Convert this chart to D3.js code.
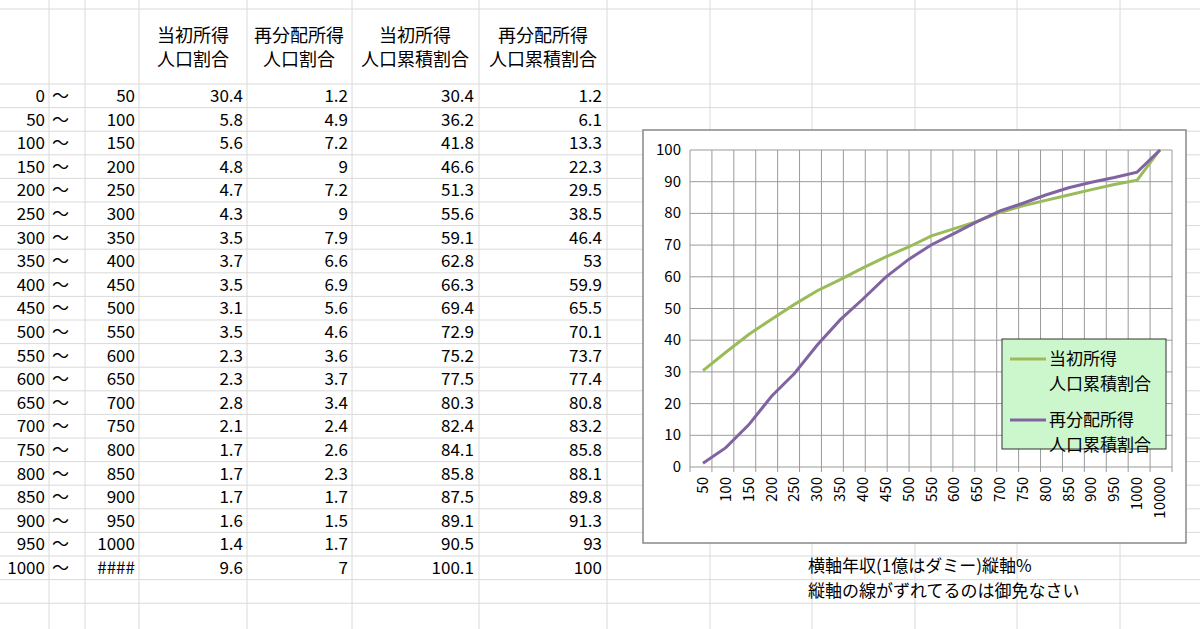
<!DOCTYPE html>
<html><head><meta charset="utf-8">
<script src="https://cdn.jsdelivr.net/npm/d3@7"></script>
<style>body{margin:0;background:#fff}svg{display:block}text{font-family:"Noto Sans CJK JP",sans-serif}</style>
</head><body><svg width="1200" height="629"></svg>
<script>
"use strict";
// table data
const lowers = ["0","50","100","150","200","250","300","350","400","450","500","550","600","650","700","750","800","850","900","950","1000"];
const uppers = ["50","100","150","200","250","300","350","400","450","500","550","600","650","700","750","800","850","900","950","1000","####"];
const initialShare = [30.4,5.8,5.6,4.8,4.7,4.3,3.5,3.7,3.5,3.1,3.5,2.3,2.3,2.8,2.1,1.7,1.7,1.7,1.6,1.4,9.6];
const redistShare = [1.2,4.9,7.2,9,7.2,9,7.9,6.6,6.9,5.6,4.6,3.6,3.7,3.4,2.4,2.6,2.3,1.7,1.5,1.7,7];
const initialCum = [30.4,36.2,41.8,46.6,51.3,55.6,59.1,62.8,66.3,69.4,72.9,75.2,77.5,80.3,82.4,84.1,85.8,87.5,89.1,90.5,100.1];
const redistCum = [1.2,6.1,13.3,22.3,29.5,38.5,46.4,53,59.9,65.5,70.1,73.7,77.4,80.8,83.2,85.8,88.1,89.8,91.3,93,100];
const headers = [["当初所得","人口割合"],["再分配所得","人口割合"],["当初所得","人口累積割合"],["再分配所得","人口累積割合"]];
// chart data
const xLabels = ["50","100","150","200","250","300","350","400","450","500","550","600","650","700","750","800","850","900","950","1000","10000"];
const yTicks = [0,10,20,30,40,50,60,70,80,90,100];
const seriesNames = [["当初所得","人口累積割合"],["再分配所得","人口累積割合"]];
const seriesColors = ["#9bbb59","#8064a2"];
const notes = ["横軸年収(1億はダミー)縦軸%","縦軸の線がずれてるのは御免なさい"];

const svg = d3.select("svg");
const fs = 17;

//sheet grid
const colLines = [49,85,139,247,352,479,607,710,812,915,1017,1120];
const rowTop = 84, rowH = 23.6;
const rowLines = [9, ...d3.range(23).map(i => rowTop + i * rowH)];
svg.append("g").selectAll("line").data(colLines).join("line")
  .attr("x1", d => d).attr("x2", d => d).attr("y1", 0).attr("y2", 629)
  .attr("stroke", "#dadada");
svg.append("g").selectAll("line").data(rowLines).join("line")
  .attr("x1", 0).attr("x2", 1200).attr("y1", d => d).attr("y2", d => d)
  .attr("stroke", "#dadada");

//headers
const headRight = [245, 350, 476, 604];
const headCenter = [193, 299, 415, 543];
headers.forEach((h, i) => {
  h.forEach((t, j) => svg.append("text").attr("x", headCenter[i]).attr("y", 42 + j * 24)
    .attr("text-anchor", "middle").attr("font-size", 18).text(t));
});

//rows
const cols = [initialShare, redistShare, initialCum, redistCum];
lowers.forEach((lo, i) => {
  const y = rowTop + i * rowH + 18;
  svg.append("text").attr("x", 45).attr("y", y).attr("text-anchor", "end").attr("font-size", fs).text(lo);
  svg.append("text").attr("x", 52).attr("y", y).attr("font-size", fs).text("～");
  svg.append("text").attr("x", 135).attr("y", y).attr("text-anchor", "end").attr("font-size", fs).text(uppers[i]);
  cols.forEach((c, k) => svg.append("text").attr("x", headRight[k] - 2).attr("y", y)
    .attr("text-anchor", "end").attr("font-size", fs).text(c[i]));
});

//notes
notes.forEach((t, i) => svg.append("text").attr("x", 808).attr("y", 572 + i * 25).attr("font-size", fs).text(t));

//chart
svg.append("rect").attr("x", 643).attr("y", 130).attr("width", 543).attr("height", 413)
  .attr("fill", "#fff").attr("stroke", "#888").attr("stroke-width", 1.5);

// gridlines use 22 bands, points sit on their own scale (the "misaligned" lines)
const xBand = d3.scaleBand().domain(d3.range(22)).range([690, 1172]);
const xPoint = d3.scalePoint().domain(xLabels).range([703, 1160]);
const y = d3.scaleLinear().domain([0, 100]).range([467, 150]);

const g = svg.append("g");
g.selectAll(".hg").data(yTicks).join("line")
  .attr("x1", 690).attr("x2", 1172).attr("y1", d => y(d)).attr("y2", d => y(d)).attr("stroke", "#9a9a9a");
const vLines = xBand.domain().map(d => xBand(d)).concat([1172]);
g.selectAll(".vg").data(vLines).join("line")
  .attr("x1", d => d).attr("x2", d => d).attr("y1", 150).attr("y2", 472).attr("stroke", "#9a9a9a");

g.selectAll(".yl").data(yTicks).join("text")
  .attr("x", 681).attr("y", d => y(d) + 5).attr("text-anchor", "end").attr("font-size", 15).text(d => d);
g.selectAll(".xl").data(xLabels).join("text")
  .attr("transform", d => `translate(${xPoint(d) + 5},477) rotate(-90)`)
  .attr("text-anchor", "end").attr("font-size", 15).text(d => d);

const line = d3.line().x((d, i) => xPoint(xLabels[i])).y(d => y(d));
[initialCum, redistCum].forEach((s, i) => g.append("path").datum(s).attr("d", line)
  .attr("fill", "none").attr("stroke", seriesColors[i]).attr("stroke-width", 3));

//legend
const lg = svg.append("g").attr("transform", "translate(1002,339)");
lg.append("rect").attr("width", 164).attr("height", 110).attr("fill", "#ccf7cc").attr("stroke", "#333");
seriesNames.forEach((n, i) => {
  const yy = 20 + i * 61;
  lg.append("line").attr("x1", 8).attr("x2", 44).attr("y1", yy).attr("y2", yy)
    .attr("stroke", seriesColors[i]).attr("stroke-width", 3);
  n.forEach((t, j) => lg.append("text").attr("x", 47).attr("y", yy + 6 + j * 25).attr("font-size", fs).text(t));
});
</script></body></html>
